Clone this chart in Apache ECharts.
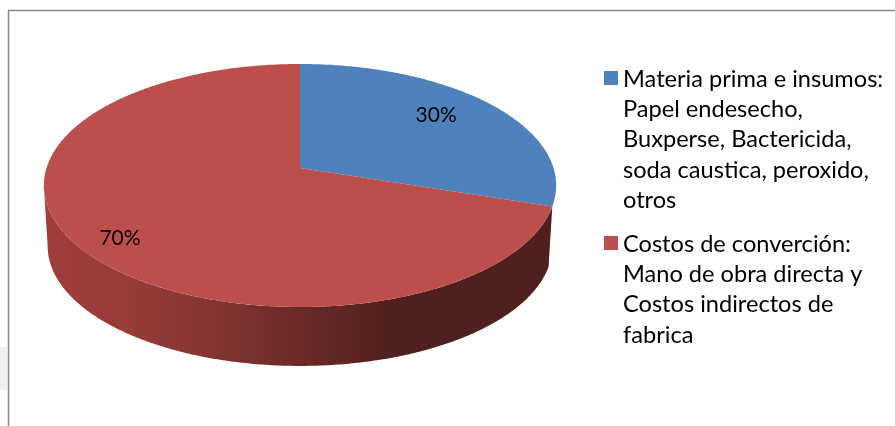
<!DOCTYPE html>
<html>
<head>
<meta charset="utf-8">
<style>html,body{margin:0;padding:0;background:#fff}#chart{width:895px;height:426px}</style>
<script src="https://cdn.jsdelivr.net/npm/echarts@6/dist/echarts.min.js"></script>
</head>
<body>
<div id="chart"></div>
<script>
let sliceValues = [30, 70]
let sliceLabels = ['30%', '70%']
let sliceColors = ['#4f81bd', '#bc4f4c']
let legendLines = [
    ['Materia prima e insumos:', 'Papel endesecho,', 'Buxperse, Bactericida,', 'soda caustica, peroxido,', 'otros'],
    ['Costos de converción:', 'Mano de obra directa y', 'Costos indirectos de', 'fabrica']
]

// perspective pie: the apex sits above the ellipse centre
let cx = 300, cy = 168, rx = 253.5, ry = 119, tilt = 0.144
let depth = 61, wallScale = 0.985
let total = sliceValues.reduce((a, b) => a + b, 0)

function project(angle, f, scale, dy) {
    let u = Math.sin(angle) * f, v = -Math.cos(angle) * f
    let d = 1 - tilt * v
    return [cx + scale * rx * u / d, cy + dy + scale * ry * v / d]
}

// angle where the rim turns back, side wall is only visible past this
let rimAngle = Math.acos(-tilt)

function sliceRange(index) {
    let start = 0
    for (let i = 0; i < index; i++) start += sliceValues[i]
    return [start / total * 2 * Math.PI, (start + sliceValues[index]) / total * 2 * Math.PI]
}

function arcPoints(a0, a1, scale, dy) {
    let pts = []
    let n = Math.max(2, Math.ceil(Math.abs(a1 - a0) / 0.01))
    for (let i = 0; i <= n; i++) pts.push(project(a0 + (a1 - a0) * i / n, 1, scale, dy))
    return pts
}

let wallFill = {
    type: 'linear', global: true, x: 44, y: 0, x2: 557, y2: 0,
    colorStops: [
        { offset: 0, color: '#a03d3a' },
        { offset: 0.16, color: '#973c39' },
        { offset: 0.3, color: '#873634' },
        { offset: 0.5, color: '#6b2a28' },
        { offset: 0.68, color: '#4f201d' },
        { offset: 1, color: '#4f201d' }
    ]
}

function renderSlice(params, api) {
    let i = api.value(1)
    let range = sliceRange(i)
    let a0 = range[0], a1 = range[1]
    let children = []
    // wall only for the slice crossing the front of the pie
    if (a0 < Math.PI && a1 > Math.PI) {
        let w0 = a0, w1 = Math.min(a1, 2 * Math.PI - rimAngle)
        let wall = arcPoints(w0, w1, 1, 0).concat(arcPoints(w1, w0, wallScale, depth))
        children.push({ type: 'polygon', shape: { points: wall }, style: { fill: wallFill } })
    }
    let top = [[cx, cy]].concat(arcPoints(a0, a1, 1, 0))
    children.push({ type: 'polygon', shape: { points: top }, style: { fill: sliceColors[i] } })
    let mid = (a0 + a1) / 2
    let f = i == 0 ? 0.72 : 0.8
    let off = i == 0 ? [-3, -5] : [-4, 10]
    let p = project(mid, f, 1, 0)
    children.push({
        type: 'text', x: p[0] + off[0], y: p[1] + off[1],
        style: { text: sliceLabels[i], fill: '#000', font: '21px Lato', align: 'center', verticalAlign: 'middle' }
    })
    return { type: 'group', children: children }
}

let graphics = [
    { type: 'line', shape: { x1: 8, y1: 10.5, x2: 895, y2: 10.5 }, style: { stroke: '#8a8a8a', lineWidth: 1.5 } },
    { type: 'line', shape: { x1: 8.5, y1: 10.5, x2: 8.5, y2: 426 }, style: { stroke: '#8a8a8a', lineWidth: 1.5 } },
    { type: 'rect', shape: { x: 0, y: 347, width: 7, height: 43 }, style: { fill: '#efefef' } }
]
let legendTops = [79, 244]
legendLines.forEach(function (lines, i) {
    graphics.push({ type: 'rect', shape: { x: 604, y: legendTops[i] - 8, width: 14, height: 14 }, style: { fill: sliceColors[i] } })
    lines.forEach(function (line, j) {
        graphics.push({
            type: 'text', x: 623, y: legendTops[i] + j * 30.4,
            style: { text: line, fill: '#000', font: '23.6px Lato', verticalAlign: 'middle' }
        })
    })
})

let chart = echarts.init(document.getElementById('chart'))
chart.setOption({
    animation: false,
    backgroundColor: '#fff',
    graphic: graphics,
    series: [{
        type: 'custom',
        coordinateSystem: 'none',
        silent: true,
        data: sliceValues.map((v, i) => [v, i]),
        renderItem: renderSlice
    }]
})
</script>
</body>
</html>
